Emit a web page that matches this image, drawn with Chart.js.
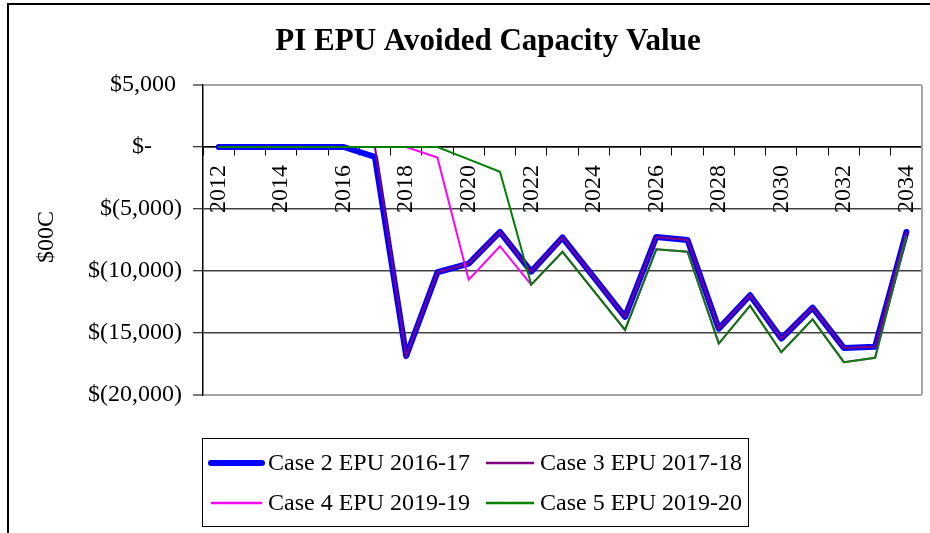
<!DOCTYPE html>
<html>
<head>
<meta charset="utf-8">
<script src="https://cdn.jsdelivr.net/npm/chart.js@4.4.0/dist/chart.umd.min.js"></script>
<style>
  html, body { margin: 0; padding: 0; background: #fff; }
  #wrap { width: 930px; height: 533px; }
</style>
</head>
<body>
<div id="wrap"><canvas id="lineChart" width="930" height="533"></canvas></div>
<script>
// chart values
const years = ['2012', '2013', '2014', '2015', '2016', '2017', '2018', '2019', '2020', '2021', '2022', '2023',
               '2024', '2025', '2026', '2027', '2028', '2029', '2030', '2031', '2032', '2033', '2034'];

const case2Values = [0, 0, 0, 0, 0, -800, -16850, -10100, -9400, -6850, -10050, -7300,
                     -10500, -13700, -7250, -7500, -14650, -11950, -15450, -12950, -16200, -16100, -6850];
const case3Values = [0, 0, 0, 0, 0, 0, -16850, -10100, -9400, -6850, -10050, -7300,
                     -10500, -13700, -7250, -7500, -14650, -11950, -15450, -12950, -16200, -16100, -6850];
const case4Values = [0, 0, 0, 0, 0, 0, 0, -850, -10700, -8000, -11100, -8450,
                     -11600, -14750, -8250, -8450, -15850, -12800, -16550, -13900, -17350, -17000, -7200];
const case5Values = [0, 0, 0, 0, 0, 0, 0, 0, -1000, -2000, -11100, -8450,
                     -11600, -14750, -8250, -8450, -15850, -12800, -16550, -13900, -17350, -17000, -7200];

const seriesNames = ['Case 2 EPU 2016-17', 'Case 3 EPU 2017-18', 'Case 4 EPU 2019-19', 'Case 5 EPU 2019-20'];
const yTicks = [5000, 0, -5000, -10000, -15000, -20000];

const chartTitle = 'PI EPU Avoided Capacity Value';
const yTitle = '$00C';

const serif = "'Liberation Serif', 'Times New Roman', serif";

function money(v) {
    if (v === 0) return '$-     ';
    const s = Math.abs(v).toLocaleString('en-US');
    return v < 0 ? '$(' + s + ')' : '$' + s + ' ';
}

// title, axis title, frame and legend box
const decorations = {
    id: 'decorations',
    beforeDatasetsDraw(chart) {
        const ctx = chart.ctx;
        const a = chart.chartArea;
        ctx.save();
        ctx.strokeStyle = '#a6a6a6';
        ctx.lineWidth = 2;
        ctx.beginPath();
        ctx.moveTo(a.right, a.top);
        ctx.lineTo(a.right, a.bottom);
        ctx.stroke();
        ctx.restore();
    },
    afterDraw(chart) {
        const ctx = chart.ctx;
        ctx.save();

        // outer frame (top and left edges only)
        ctx.strokeStyle = '#000';
        ctx.lineWidth = 2;
        ctx.beginPath();
        ctx.moveTo(8, 533);
        ctx.lineTo(8, 4);
        ctx.lineTo(930, 4);
        ctx.stroke();

        ctx.fillStyle = '#000';
        ctx.textAlign = 'center';
        ctx.textBaseline = 'middle';
        ctx.font = 'bold 31px ' + serif;
        ctx.fillText(chartTitle, 488, 42);

        ctx.font = '24px ' + serif;
        ctx.save();
        ctx.translate(47, 237);
        ctx.rotate(-Math.PI / 2);
        ctx.fillText(yTitle, 0, 0);
        ctx.restore();

        // legend
        ctx.lineWidth = 1;
        ctx.strokeStyle = '#000';
        ctx.strokeRect(202.5, 438.5, 546, 88);
        const cols = [{ x0: 211, x1: 262, tx: 268 }, { x0: 486, x1: 534, tx: 540 }];
        const rows = [463, 503];
        ctx.textAlign = 'left';
        chart.data.datasets.forEach((ds, i) => {
            const c = cols[i % 2];
            const y = rows[Math.floor(i / 2)];
            ctx.strokeStyle = ds.borderColor;
            ctx.lineWidth = i === 0 ? 6 : 2.5;
            ctx.lineCap = i === 0 ? 'round' : 'butt';
            ctx.beginPath();
            ctx.moveTo(c.x0, y);
            ctx.lineTo(c.x1, y);
            ctx.stroke();
            ctx.fillStyle = '#000';
            ctx.fillText(ds.label, c.tx, y + 1);
        });
        ctx.restore();
    }
};

const content = document.getElementById('lineChart').getContext('2d');
new Chart(content, {
    type: 'line',
    data: {
        labels: years,
        datasets: [{
            label: seriesNames[0],
            data: case2Values,
            borderColor: '#0000ff',
            borderWidth: 6,
            borderCapStyle: 'round',
            borderJoinStyle: 'round',
            order: 4
        }, {
            label: seriesNames[1],
            data: case3Values,
            borderColor: '#800080',
            borderWidth: 2,
            order: 3
        }, {
            label: seriesNames[2],
            data: case4Values,
            borderColor: '#ff00ff',
            borderWidth: 2,
            order: 2
        }, {
            label: seriesNames[3],
            data: case5Values,
            borderColor: '#008000',
            borderWidth: 2,
            order: 1
        }]
    },
    options: {
        responsive: false,
        animation: false,
        devicePixelRatio: 1,
        layout: { padding: { top: 85, bottom: 138, left: 0, right: 8 } },
        elements: {
            point: { radius: 0, hoverRadius: 0 },
            line: { tension: 0, fill: false }
        },
        plugins: {
            legend: { display: false },
            title: { display: false },
            tooltip: { enabled: false }
        },
        scales: {
            x: {
                position: { y: 0 },
                offset: true,
                grid: {
                    display: true,
                    offset: true,
                    drawOnChartArea: false,
                    drawTicks: true,
                    tickLength: 8,
                    tickColor: '#000',
                    tickWidth: 1
                },
                border: { display: true, color: '#000', width: 1.5 },
                ticks: {
                    autoSkip: false,
                    maxRotation: 90,
                    minRotation: 90,
                    padding: 10,
                    color: '#000',
                    font: { family: serif, size: 24 },
                    callback: (val, idx) => idx % 2 === 0 ? years[idx] : ''
                },
                afterFit: s => { s.paddingLeft = 0; s.paddingRight = 0; }
            },
            y: {
                min: -20000,
                max: 5000,
                afterBuildTicks: s => { s.ticks = yTicks.map(v => ({ value: v })); },
                grid: {
                    color: c => (c.tick && (c.tick.value === 5000 || c.tick.value === -20000)) ? '#a6a6a6' : '#404040',
                    lineWidth: c => (c.tick && (c.tick.value === 5000 || c.tick.value === -20000)) ? 2 : 1.5,
                    tickLength: 10,
                    tickColor: '#000',
                    tickWidth: 1
                },
                border: { display: true, color: '#000', width: 1.5 },
                ticks: {
                    padding: 11,
                    color: '#000',
                    font: { family: serif, size: 24 },
                    callback: v => money(v)
                },
                afterFit: s => { s.width = 203; s.paddingTop = 0; s.paddingBottom = 0; }
            }
        }
    },
    plugins: [decorations]
});
</script>
</body>
</html>
